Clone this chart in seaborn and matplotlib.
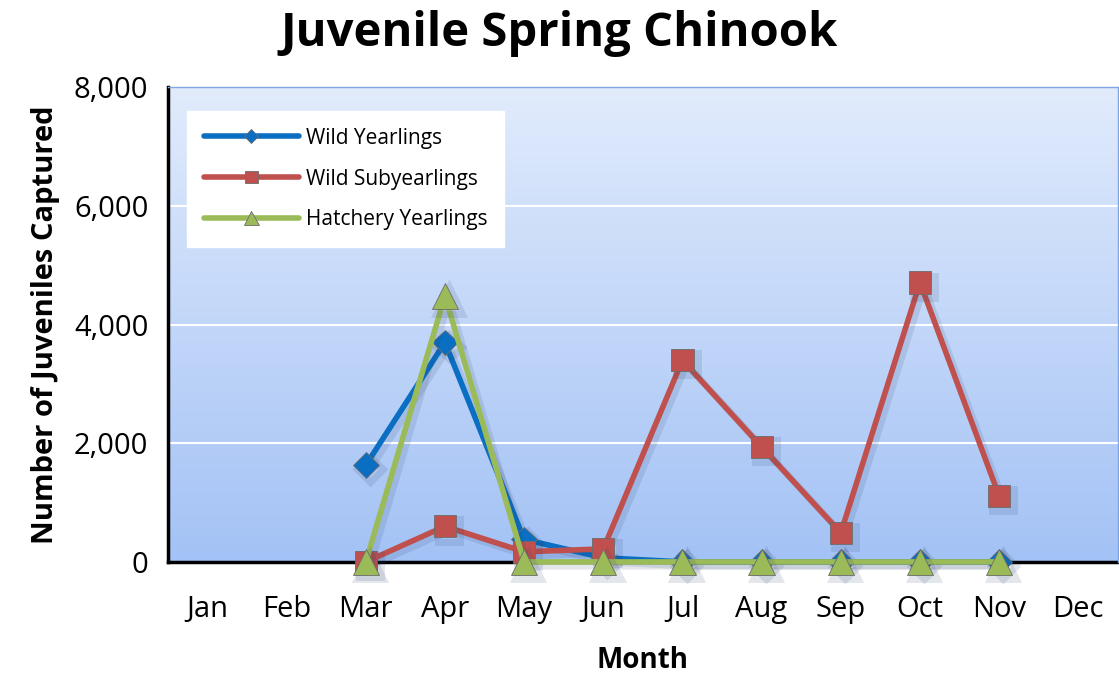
import numpy as np
import pandas as pd
import seaborn as sns
import matplotlib.pyplot as plt
import matplotlib.patheffects as pe
from matplotlib.colors import LinearSegmentedColormap

# monthly catch values
months = ['Jan', 'Feb', 'Mar', 'Apr', 'May', 'Jun', 'Jul', 'Aug', 'Sep', 'Oct', 'Nov', 'Dec']
wild_yearlings = [np.nan, np.nan, 1630, 3700, 380, 70, 0, 0, 0, 0, 0, np.nan]
wild_subyearlings = [np.nan, np.nan, 0, 600, 170, 220, 3400, 1940, 490, 4710, 1110, np.nan]
hatchery_yearlings = [np.nan, np.nan, 0, 4480, 0, 0, 0, 0, 0, 0, 0, np.nan]

sns.set_style('white')
plt.rcParams['font.family'] = ['Open Sans', 'DejaVu Sans']
plt.rcParams['text.color'] = 'black'
plt.rcParams['axes.labelcolor'] = 'black'
plt.rcParams['xtick.color'] = 'black'
plt.rcParams['ytick.color'] = 'black'

fig = plt.figure(figsize=(11.19, 6.77), dpi=100)
ax = fig.add_axes([0.150, 0.170, 0.849, 0.701])

# gradient plot background
grad = np.linspace(0, 1, 256).reshape(-1, 1)
cmap = LinearSegmentedColormap.from_list('bg', ['#e1ebfc', '#a3c2f5'])
ax.imshow(grad, extent=[-0.5, 11.5, 0, 8000], aspect='auto', cmap=cmap,
          origin='upper', zorder=0)
for g in [2000, 4000, 6000]:
    ax.axhline(g, color='white', lw=1.5, zorder=1)

series = [
    ('Wild Yearlings', wild_yearlings, '#0a6fc2', 'D', 13),
    ('Wild Subyearlings', wild_subyearlings, '#c0504d', 's', 16),
    ('Hatchery Yearlings', hatchery_yearlings, '#9bbb59', '^', 19),
]
shadow = [pe.SimpleLineShadow(offset=(3, -3), alpha=0.12, shadow_color='#1f3a68', linewidth=5),
          pe.Normal()]
for i, (name, vals, color, marker, ms) in enumerate(series):
    df = pd.DataFrame({'month': np.arange(12), 'count': vals}).dropna()
    sns.lineplot(data=df, x='month', y='count', ax=ax, color=color, lw=4,
                 marker=marker, markersize=ms, markeredgecolor='#6b6b6b',
                 markeredgewidth=0.6, markerfacecolor=color, label=name,
                 zorder=3 + i, clip_on=False, path_effects=shadow)

ax.set_xlim(-0.5, 11.5)
ax.set_ylim(0, 8000)
ax.set_xticks(np.arange(12))
ax.set_xticklabels(months)
ax.set_xticks(np.arange(-0.5, 12, 1), minor=True)
ax.tick_params(axis='x', which='major', length=0, labelsize=21, pad=24)
ax.tick_params(axis='x', which='minor', length=8, width=2.5, direction='out')
ax.set_yticks([0, 2000, 4000, 6000, 8000])
ax.set_yticklabels(['0', '2,000', '4,000', '6,000', '8,000'])
ax.tick_params(axis='y', length=8, width=2.5, direction='out', labelsize=21, pad=6)

for side in ['left', 'bottom']:
    ax.spines[side].set_color('black')
    ax.spines[side].set_linewidth(2.5)
    ax.spines[side].set_zorder(2)
for side in ['top', 'right']:
    ax.spines[side].set_color('#7fa6e0')
    ax.spines[side].set_linewidth(1)

ax.set_xlabel('Month', fontsize=20, fontweight='bold', labelpad=16)
ax.set_ylabel('Number of Juveniles Captured', fontsize=21, fontweight='bold', labelpad=10)
fig.suptitle('Juvenile Spring Chinook', fontsize=34, fontweight='bold', y=0.985)

leg = ax.legend(loc='upper left', bbox_to_anchor=(0.02, 0.95), fontsize=15,
                frameon=True, fancybox=False, framealpha=1, edgecolor='white',
                handlelength=4.6, labelspacing=0.95, borderpad=0.8, borderaxespad=0,
                markerscale=0.55, handletextpad=0.3)
leg.get_frame().set_facecolor('white')
leg.set_zorder(10)
for h in leg.get_lines():
    h.set_path_effects([pe.Normal()])

fig.savefig('out.png', dpi=100)
